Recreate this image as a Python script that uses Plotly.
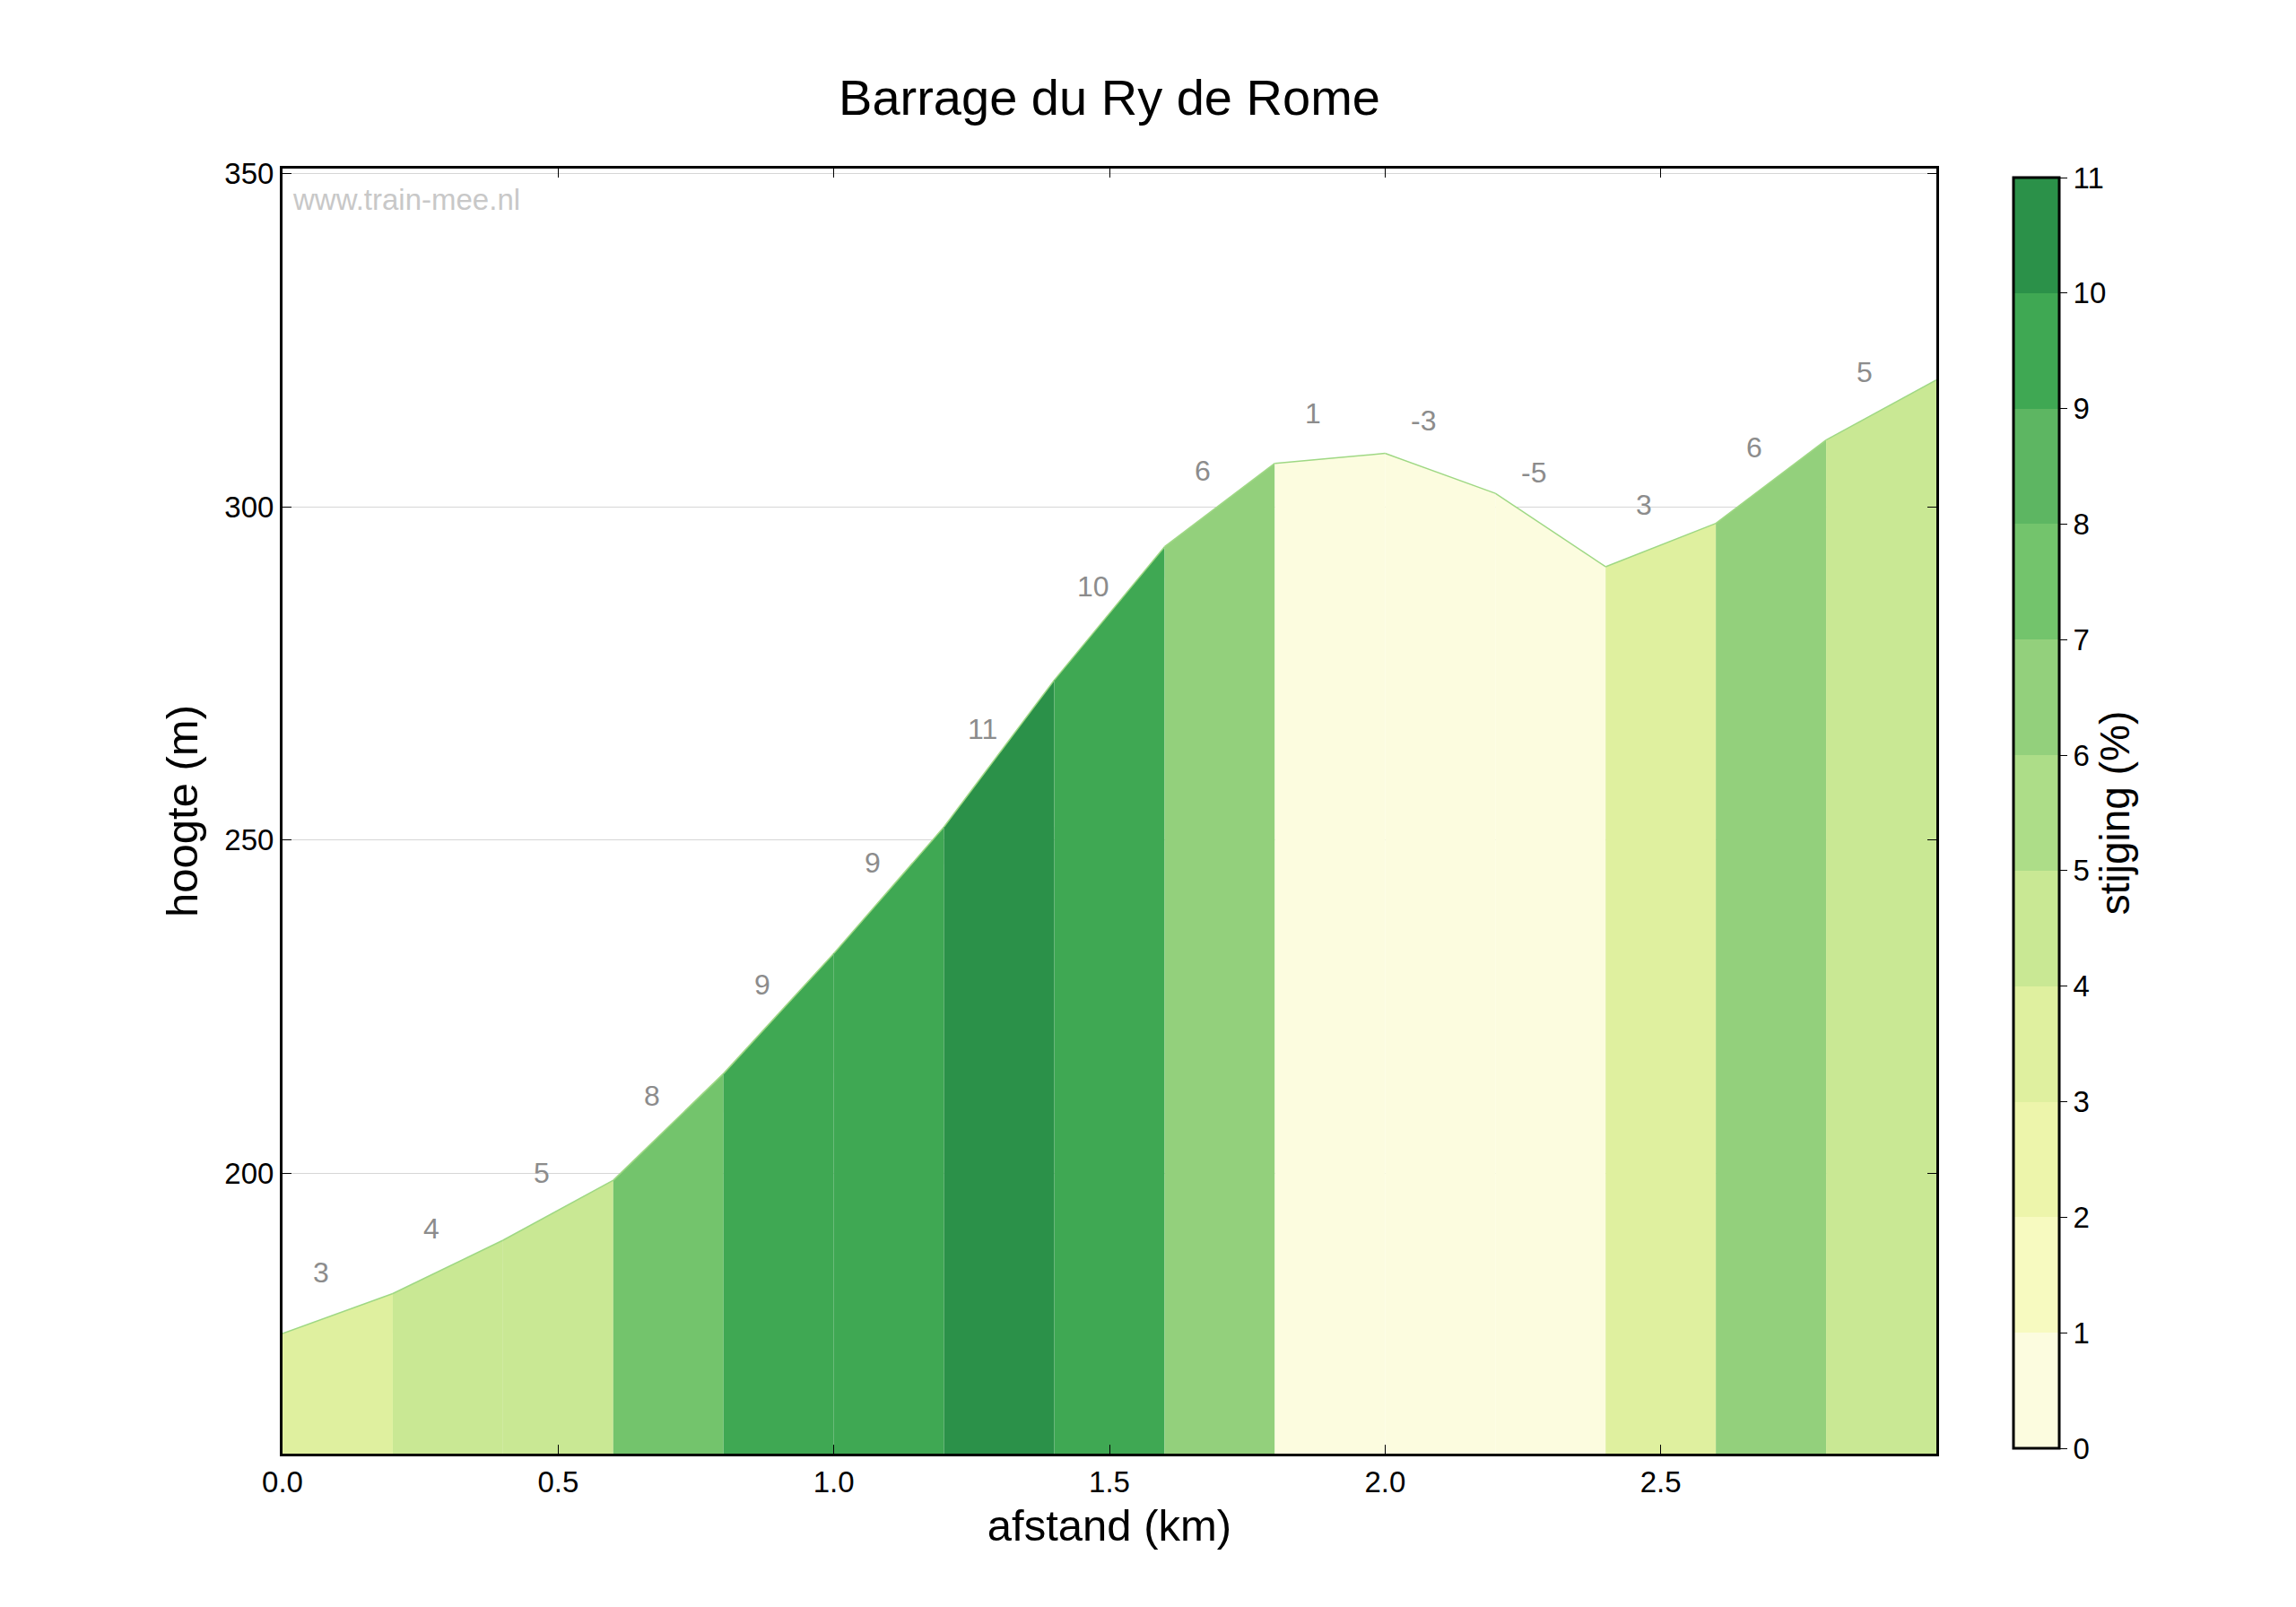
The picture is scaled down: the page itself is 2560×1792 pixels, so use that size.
import plotly.graph_objects as go

dist = [0.0,0.2,0.4,0.6,0.8,1.0,1.2,1.4,1.6,1.8,2.0,2.2,2.4,2.6,2.8,3.0]
elev = [176,182,190,199,215,233,252,274,294,306.5,308,302,291,297.5,310,319]
grade_labels = [3,4,5,8,9,9,11,10,6,1,-3,-5,3,6,5]
bin_colors = ["#fcfcdf","#f7fac0","#edf5ab","#dff09f","#c9e894","#addd88",
              "#93d07c","#73c46c","#5db662","#3fa853","#2b9149"]

fig = go.Figure()
for i in range(len(dist)-1):
    slope = (elev[i+1]-elev[i])/((dist[i+1]-dist[i])*1000)*100
    b = max(0, min(10, int(slope)))
    fig.add_trace(go.Scatter(x=[dist[i],dist[i+1]], y=[elev[i],elev[i+1]], mode="lines",
        line=dict(color="#9fd884", width=1.5), fill="tozeroy", fillcolor=bin_colors[b],
        showlegend=False, hoverinfo="skip"))
    xl = dist[i]+0.07
    yl = elev[i]+(elev[i+1]-elev[i])*0.35+7
    fig.add_annotation(x=xl, y=yl, text=str(grade_labels[i]), showarrow=False,
        font=dict(size=32, color="#8c8c8c", family="Liberation Sans"))

cs = []
n = len(bin_colors)
for k,c in enumerate(bin_colors):
    cs.append([k/n, c]); cs.append([(k+1)/n, c])
fig.add_trace(go.Scatter(x=[None], y=[None], mode="markers", showlegend=False,
    marker=dict(color=[0], colorscale=cs, cmin=0, cmax=11, showscale=True,
        colorbar=dict(title=dict(text="stijging (%)", side="right", font=dict(size=46, color="black")),
            tickvals=list(range(12)), ticks="outside", ticklen=8, tickcolor="black",
            tickfont=dict(size=33, color="black"), outlinecolor="black", outlinewidth=3,
            thickness=51, lenmode="pixels", len=1437, x=1.041, xanchor="left",
            y=1.0, yanchor="top"))))

fig.add_annotation(x=0.005, y=0.99, xref="paper", yref="paper", xanchor="left", yanchor="top",
    text="www.train-mee.nl", showarrow=False, font=dict(size=33, color="#c8c8c8"))

ax = dict(showline=True, linecolor="black", linewidth=3, mirror="ticks", ticks="inside",
          ticklen=10, tickcolor="black", tickfont=dict(size=33, color="black"), zeroline=False)
fig.update_layout(
    width=2560, height=1792, plot_bgcolor="white", paper_bgcolor="white",
    font=dict(family="Liberation Sans"),
    margin=dict(l=307, r=409, t=180, b=179),
    title=dict(text="Barrage du Ry de Rome", x=0.5, xref="paper", y=0.955, xanchor="center",
               font=dict(size=56, color="black")),
    xaxis=dict(range=[0,3.0], tickvals=[0,0.5,1,1.5,2,2.5], ticktext=["0.0","0.5","1.0","1.5","2.0","2.5"],
               title=dict(text="afstand (km)", font=dict(size=49, color="black")), showgrid=False, **ax),
    yaxis=dict(range=[158,350.7], tickvals=[200,250,300,350], showgrid=True, gridcolor="#d6d6d6",
               title=dict(text="hoogte (m)", font=dict(size=49, color="black")), **ax),
)
fig.write_html("out.html")
